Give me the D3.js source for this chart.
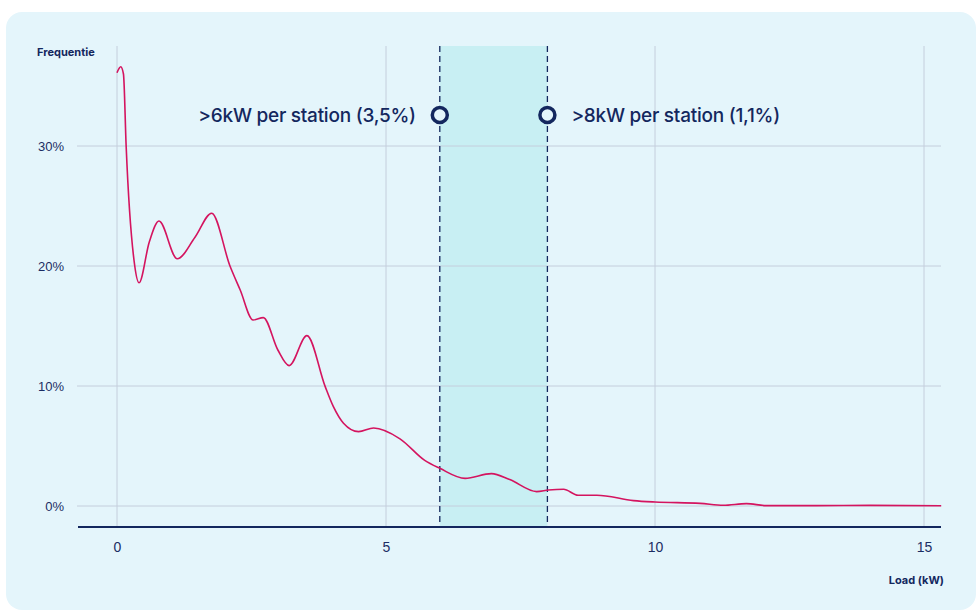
<!DOCTYPE html>
<html>
<head>
<meta charset="utf-8">
<script src="https://cdn.jsdelivr.net/npm/d3@7"></script>
<style>
  html, body { margin: 0; padding: 0; background: #ffffff; }
  svg { display: block; font-family: Inter, "Noto Sans", sans-serif; }
  .grid line { stroke: #c4cedc; stroke-width: 1; }
  .grid path { display: none; }
  .y.axis path, .y.axis line { display: none; }
  .y.axis text { fill: #1b2d63; font-size: 13px; }
  .x.axis path { display: none; }
  .x.axis line { display: none; }
  .x.axis text { fill: #1b2d63; font-size: 14px; font-weight: 500; }
</style>
</head>
<body>
<svg id="chart"></svg>
<script>
// load (kW) and frequency (%)
var loadKw = [0.0, 0.07, 0.12, 0.17, 0.33, 0.41, 0.6, 0.78, 1.12, 1.45, 1.76, 2.1,
  2.29, 2.53, 2.72, 2.99, 3.2, 3.53, 3.87, 4.02, 4.21, 4.49, 4.77, 5.26, 5.72,
  6.0, 6.47, 6.96, 7.3, 7.8, 8.02, 8.3, 8.57, 8.92, 9.6, 10.0, 10.84, 11.27,
  11.7, 12.07, 13.0, 14.0, 15.32];
var freqPct = [36.1, 36.6, 36.0, 30.0, 20.0, 18.6, 22.0, 23.75, 20.6, 22.4, 24.4, 20.0,
  18.0, 15.5, 15.7, 13.0, 11.7, 14.2, 9.95, 8.3, 6.9, 6.2, 6.5, 5.6, 3.8,
  3.14, 2.3, 2.7, 2.2, 1.2, 1.33, 1.4, 0.9, 0.9, 0.45, 0.33, 0.22, 0.06,
  0.2, 0.03, 0.03, 0.05, 0.02];

var xTicks = [0, 5, 10, 15];
var yTicks = [0, 10, 20, 30];
var band = [6, 8];
var bandLabels = ['>6kW per station (3,5%)', '>8kW per station (1,1%)'];

var W = 977, H = 612;
var navy = '#13275e';

var svg = d3.select('#chart').attr('width', W).attr('height', H);

/* card background */
svg.append('rect')
  .attr('x', 6).attr('y', 12)
  .attr('width', 970).attr('height', 598)
  .attr('rx', 16)
  .attr('fill', '#e4f5fb');

var x = d3.scaleLinear().domain([0, 15]).range([117, 924]);
var y = d3.scaleLinear().domain([0, 30]).range([506, 146]);
var plotTop = 46, axisY = 527, gridLeft = 77, plotRight = 941;

/* shaded band */
svg.append('rect')
  .attr('x', x(band[0])).attr('y', plotTop)
  .attr('width', x(band[1]) - x(band[0]))
  .attr('height', axisY - plotTop)
  .attr('fill', '#c8eff3');

/* vertical grid */
svg.append('g')
  .attr('class', 'grid')
  .selectAll('line')
  .data(xTicks)
  .enter().append('line')
    .attr('x1', function(d) { return x(d); })
    .attr('x2', function(d) { return x(d); })
    .attr('y1', plotTop).attr('y2', axisY);

/* horizontal grid */
svg.append('g')
  .attr('class', 'grid')
  .selectAll('line')
  .data(yTicks)
  .enter().append('line')
    .attr('x1', gridLeft).attr('x2', plotRight)
    .attr('y1', function(d) { return y(d); })
    .attr('y2', function(d) { return y(d); });

/* dashed band edges */
svg.append('g')
  .selectAll('line')
  .data(band)
  .enter().append('line')
    .attr('x1', function(d) { return x(d); })
    .attr('x2', function(d) { return x(d); })
    .attr('y1', plotTop).attr('y2', axisY)
    .attr('stroke', navy)
    .attr('stroke-width', 1.3)
    .attr('stroke-dasharray', '6,4');

/* y axis */
svg.append('g')
  .attr('class', 'y axis')
  .attr('transform', 'translate(' + 68 + ',0)')
  .call(d3.axisLeft(y).tickValues(yTicks).tickSize(0).tickPadding(4)
    .tickFormat(function(d) { return d + '%'; }));

/* x axis */
svg.append('line')
  .attr('x1', 78).attr('x2', plotRight)
  .attr('y1', axisY).attr('y2', axisY)
  .attr('stroke', navy).attr('stroke-width', 2);

svg.append('g')
  .attr('class', 'x axis')
  .attr('transform', 'translate(0,' + axisY + ')')
  .call(d3.axisBottom(x).tickValues(xTicks).tickSize(0).tickPadding(15));

/* the curve */
var points = loadKw.map(function(d, i) { return [d, freqPct[i]]; });
svg.append('path')
  .datum(points)
  .attr('fill', 'none')
  .attr('stroke', '#d4145f')
  .attr('stroke-width', 1.6)
  .attr('d', d3.line()
    .x(function(d) { return x(d[0]); })
    .y(function(d) { return y(d[1]); })
    .curve(d3.curveMonotoneX));

/* markers and labels */
var markerY = 115;
svg.append('g')
  .selectAll('circle')
  .data(band)
  .enter().append('circle')
    .attr('cx', function(d) { return x(d); })
    .attr('cy', markerY)
    .attr('r', 7.5)
    .attr('fill', '#e4f5fb')
    .attr('stroke', navy)
    .attr('stroke-width', 3.5);

svg.append('g')
  .selectAll('text')
  .data(band)
  .enter().append('text')
    .attr('x', function(d, i) { return i === 0 ? x(d) - 24 : x(d) + 24; })
    .attr('y', markerY)
    .attr('dy', '0.35em')
    .attr('text-anchor', function(d, i) { return i === 0 ? 'end' : 'start'; })
    .attr('fill', navy)
    .style('font-size', '19px')
    .style('font-weight', 500)
    .style('letter-spacing', '-0.25px')
    .text(function(d, i) { return bandLabels[i]; });

/* axis titles */
svg.append('text')
  .attr('x', 37).attr('y', 56)
  .attr('fill', navy)
  .style('font-size', '11px')
  .style('font-weight', 700)
  .text('Frequentie');

svg.append('text')
  .attr('x', 944).attr('y', 584)
  .attr('text-anchor', 'end')
  .attr('fill', navy)
  .style('font-size', '11px')
  .style('font-weight', 700)
  .text('Load (kW)');
</script>
</body>
</html>
